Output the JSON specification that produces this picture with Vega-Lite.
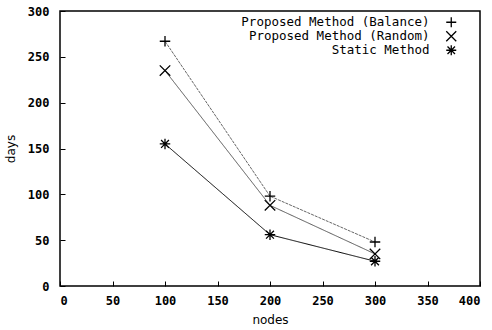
{
  "$schema": "https://vega.github.io/schema/vega-lite/v6.json",
  "width": 420,
  "height": 275,
  "autosize": "none",
  "padding": {"left": 60, "top": 11, "right": 12, "bottom": 44},
  "background": "white",
  "config": {
    "view": {"stroke": "black", "strokeWidth": 1.5},
    "axis": {
      "grid": false,
      "domain": false,
      "tickColor": "black",
      "tickSize": -5,
      "tickWidth": 1,
      "labelFont": "DejaVu Sans Mono",
      "labelFontWeight": "bold",
      "labelFontSize": 12,
      "labelColor": "black",
      "titleFont": "DejaVu Sans",
      "titleFontWeight": "normal",
      "titleFontSize": 12,
      "titleColor": "black"
    },
    "legend": {
      "labelFont": "DejaVu Sans Mono",
      "labelFontSize": 12.5,
      "labelColor": "black",
      "labelAlign": "right",
      "labelLimit": 400,
      "labelOffset": -28,
      "symbolOffset": 21,
      "symbolSize": 100,
      "symbolStrokeWidth": 1.3,
      "rowPadding": -5,
      "padding": 0
    }
  },
  "data": {
    "values": [
      {"method": "Proposed Method (Balance)", "nodes": 100, "days": 267},
      {"method": "Proposed Method (Balance)", "nodes": 200, "days": 98},
      {"method": "Proposed Method (Balance)", "nodes": 300, "days": 48},
      {"method": "Proposed Method (Random)", "nodes": 100, "days": 235},
      {"method": "Proposed Method (Random)", "nodes": 200, "days": 88},
      {"method": "Proposed Method (Random)", "nodes": 300, "days": 35},
      {"method": "Static Method", "nodes": 100, "days": 155},
      {"method": "Static Method", "nodes": 200, "days": 56},
      {"method": "Static Method", "nodes": 300, "days": 27}
    ]
  },
  "encoding": {
    "x": {
      "field": "nodes", "type": "quantitative",
      "scale": {"domain": [0, 400], "nice": false},
      "axis": {"values": [0, 50, 100, 150, 200, 250, 300, 350, 400], "title": "nodes", "labelPadding": 14, "titlePadding": 8}
    },
    "y": {
      "field": "days", "type": "quantitative",
      "scale": {"domain": [0, 300], "nice": false},
      "axis": {"values": [0, 50, 100, 150, 200, 250, 300], "title": "days", "labelPadding": 16, "titlePadding": 10}
    }
  },
  "layer": [
    {
      "mark": {"type": "line", "strokeWidth": 1},
      "encoding": {
        "detail": {"field": "method"},
        "color": {
          "field": "method", "type": "nominal",
          "scale": {"domain": ["Proposed Method (Balance)", "Proposed Method (Random)", "Static Method"], "range": ["#666666", "#555555", "#000000"]},
          "legend": null
        },
        "strokeDash": {
          "field": "method", "type": "nominal",
          "scale": {"domain": ["Proposed Method (Balance)", "Proposed Method (Random)", "Static Method"], "range": [[3, 1], [1, 0], [1, 0]]},
          "legend": null
        }
      }
    },
    {
      "mark": {"type": "point", "filled": false, "size": 110, "strokeWidth": 1.3, "color": "black", "opacity": 1},
      "encoding": {
        "shape": {
          "field": "method", "type": "nominal",
          "scale": {
            "domain": ["Proposed Method (Balance)", "Proposed Method (Random)", "Static Method"],
            "range": ["M-1,0L1,0M0,-1L0,1", "M-1,-1L1,1M-1,1L1,-1", "M-1,0L1,0M0,-1L0,1M-0.75,-0.75L0.75,0.75M-0.75,0.75L0.75,-0.75"]
          },
          "legend": {"title": null, "orient": "none", "legendX": 364, "legendY": 5}
        }
      }
    }
  ],
  "resolve": {"legend": {"shape": "independent", "color": "independent", "strokeDash": "independent"}, "scale": {"shape": "independent", "color": "independent", "strokeDash": "independent"}}
}
